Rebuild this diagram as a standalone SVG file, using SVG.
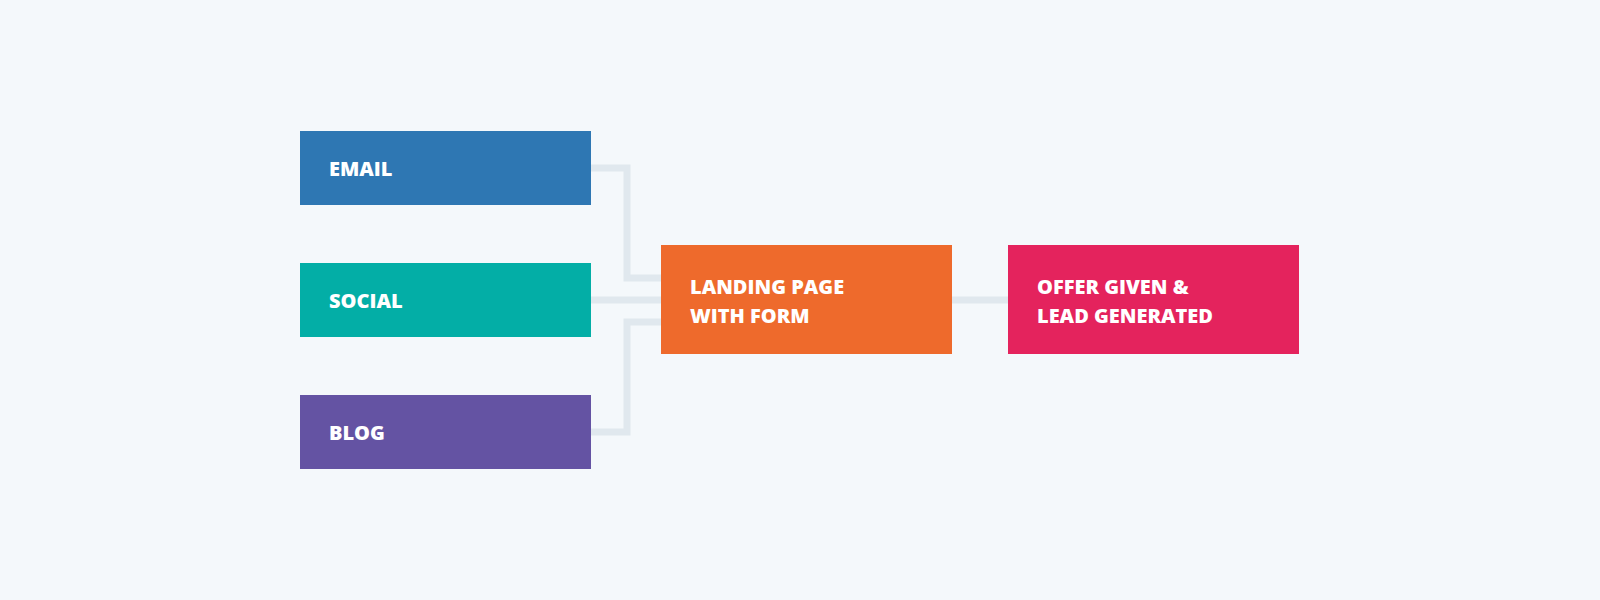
<svg xmlns="http://www.w3.org/2000/svg" width="1600" height="600" viewBox="0 0 1600 600">
<style>
.l{font-family:"Open Sans","Noto Sans",sans-serif;font-weight:800;font-size:20px;fill:#fff;dominant-baseline:central}
.c{fill:none;stroke:#e0e8ee;stroke-width:7}
</style>
<rect width="1600" height="600" fill="#f4f8fb"/>
<g id="connectors">
<polyline class="c" points="591,168 627,168 627,278 661,278"/>
<polyline class="c" points="591,300 661,300"/>
<polyline class="c" points="591,432 627,432 627,322 661,322"/>
<polyline class="c" points="952,300 1008,300"/>
</g>
<g id="email"><rect x="300" y="131" width="291" height="74" fill="#2e77b3"/><text class="l" x="329" y="168">EMAIL</text></g>
<g id="social"><rect x="300" y="263" width="291" height="74" fill="#03aea6"/><text class="l" x="329" y="300">SOCIAL</text></g>
<g id="blog"><rect x="300" y="395" width="291" height="74" fill="#6453a3"/><text class="l" x="329" y="432">BLOG</text></g>
<g id="landing"><rect x="661" y="245" width="291" height="109" fill="#ee6a2c"/><text class="l" x="690" y="286">LANDING PAGE</text><text class="l" x="690" y="315">WITH FORM</text></g>
<g id="offer"><rect x="1008" y="245" width="291" height="109" fill="#e4235d"/><text class="l" x="1037" y="286">OFFER GIVEN &amp;</text><text class="l" x="1037" y="315">LEAD GENERATED</text></g>
</svg>
